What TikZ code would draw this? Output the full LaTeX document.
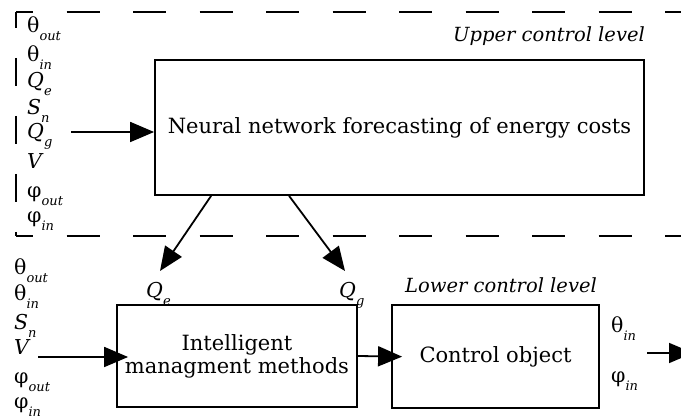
\documentclass[tikz,border=0pt]{standalone}
\usepackage{fontspec}
\setmainfont{DejaVu Serif}
\usetikzlibrary{arrows.meta}
\newcommand{\lsub}[2]{#1\raisebox{-8pt}{\fontsize{13}{13}\selectfont\itshape #2}}
\tikzset{
  block/.style={draw, line width=1.8pt, align=center, font=\fontsize{21}{27}\selectfont},
  arr/.style={line width=1.8pt, -{Triangle[length=24pt,width=20pt]}},
  frame/.style={line width=2.2pt},
  var/.style={anchor=base west, inner sep=0pt, font=\fontsize{20.5}{20.5}\selectfont},
  level/.style={anchor=base east, inner sep=0pt, font=\fontsize{19.5}{19.5}\selectfont\itshape}
}
\begin{document}
\begin{tikzpicture}[x=1pt,y=-1pt]
\useasboundingbox (0,0) rectangle (681,419);
% dashed frame of the upper level
\draw [frame, dash pattern=on 33pt off 33.5pt, dash phase=16pt] (16,12) -- (690,12);
\draw [frame, dash pattern=on 28pt off 30pt, dash phase=12pt] (16,12) -- (16,236);
\draw [frame, dash pattern=on 33pt off 33.5pt, dash phase=16pt] (16,236) -- (690,236);
\node [level] (upper) at (645,42) {Upper control level};
\node [level] (lower) at (597,293) {Lower control level};
% blocks
\node [block, minimum width=489pt, minimum height=135pt] (nn) at (399.5,127.5) {Neural network forecasting of energy costs};
\node [block, minimum width=240pt, minimum height=102pt] (imm) at (237,356) {Intelligent\\[-4pt]managment methods};
\node [block, minimum width=207pt, minimum height=103pt] (obj) at (495.5,356.5) {Control object};
% inputs of the upper level
\node [var] (tout1) at (27,33) {\lsub{θ}{out}};
\node [var] (tin1) at (27,62) {\lsub{θ}{in}};
\node [var] (qe1) at (27,88) {\lsub{\textit{Q}}{e}};
\node [var] (sn1) at (27,115) {\lsub{\textit{S}}{n}};
\node [var] (qg1) at (27,139) {\lsub{\textit{Q}}{g}};
\node [var] (v1) at (27,169) {\textit{V}};
\node [var] (fout1) at (27,198) {\lsub{φ}{out}};
\node [var] (fin1) at (27,223) {\lsub{φ}{in}};
% inputs of the lower level
\node [var] (tout2) at (14,275) {\lsub{θ}{out}};
\node [var] (tin2) at (14,301) {\lsub{θ}{in}};
\node [var] (sn2) at (14,330) {\lsub{\textit{S}}{n}};
\node [var] (v2) at (14,355) {\textit{V}};
\node [var] (fout2) at (14,384) {\lsub{φ}{out}};
\node [var] (fin2) at (14,409) {\lsub{φ}{in}};
% forecasts
\node [var] (qe) at (146,298) {\lsub{\textit{Q}}{e}};
\node [var] (qg) at (339,298) {\lsub{\textit{Q}}{g}};
% outputs
\node [var] (tout) at (611,333) {\lsub{θ}{in}};
\node [var] (fout) at (611,383) {\lsub{φ}{in}};
% arrows
\coordinate (in1) at (71,132);
\coordinate (in2) at (38,357);
\coordinate (qetip) at (160,271);
\coordinate (qgtip) at (345,271);
\coordinate (o1) at (647,353);
\coordinate (o2) at (693,353);
\draw [arr] (in1) -- (in1 -| nn.west);
\draw [arr] ([xshift=57pt]nn.south west) -- (qetip);
\draw [arr] ([xshift=135pt]nn.south west) -- (qgtip);
\draw [arr, shorten >=-12pt] (in2) -- (in2 -| imm.west);
\draw [arr, shorten >=-11pt] (imm.east) -- (obj.west);
\draw [arr] (o1) -- (o2);
\end{tikzpicture}
\end{document}
